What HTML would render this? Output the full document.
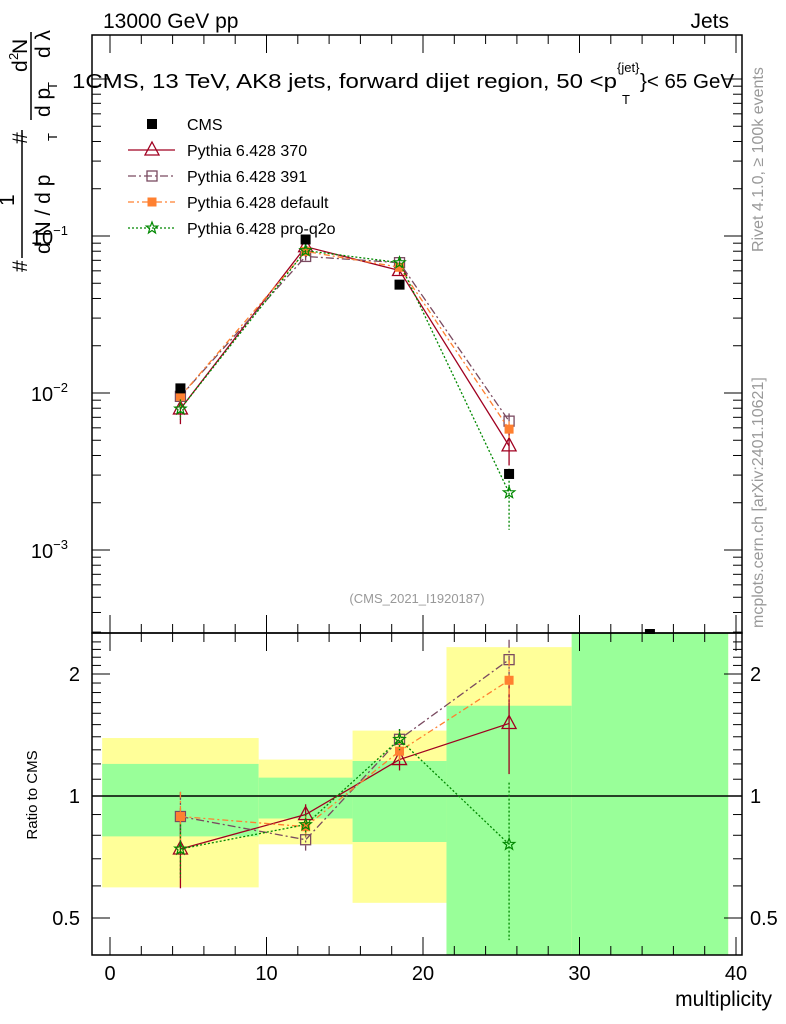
<!DOCTYPE html>
<html><head><meta charset="utf-8"><style>
body{margin:0;background:#fff}
svg{display:block;font-family:"Liberation Sans",sans-serif}
</style></head><body>
<svg id="c" width="786" height="1024" viewBox="0 0 786 1024"></svg>
<script>
const xs = [4.5, 12.5, 18.5, 25.5];
const cmsVals = [0.0107, 0.095, 0.049, 0.00305];
const cmsErr = [0.06, 0.05, 0.05, 0.06];
const r370 = [0.74, 0.90, 1.23, 1.51];
const r391 = [0.89, 0.78, 1.38, 2.17];
const rDef = [0.89, 0.84, 1.29, 1.93];
const rQ2o = [0.74, 0.85, 1.38, 0.76];
const e370 = [0.2, 0.06, 0.06, 0.25];
const e391 = [0.15, 0.06, 0.06, 0.12];
const eDef = [0.15, 0.06, 0.06, 0.12];
const eQ2o = [0.15, 0.06, 0.06, 0.42];
const binEdges = [-0.5, 9.5, 15.5, 21.5, 29.5, 39.5];
const yelLo = [0.595, 0.76, 0.545, 0.3, 0.3];
const yelHi = [1.39, 1.23, 1.45, 2.33, 3];
const grnLo = [0.795, 0.88, 0.77, 0.3, 0.3];
const grnHi = [1.2, 1.11, 1.22, 1.67, 3];
const xTicks = [0, 10, 20, 30, 40];

const NS = "http://www.w3.org/2000/svg";
const svg = document.getElementById('c');
const L = 92, R = 742, T1 = 35, B1 = 633, T2 = 633, B2 = 955;
const X = v => 110 + v * 15.65;
const Y1 = v => 236 - 157 * (Math.log10(v) + 1);
const Y2 = v => 796 - 122 * Math.log2(v);
function el(tag, attrs, parent) {
  const e = document.createElementNS(NS, tag);
  for (const k in attrs) e.setAttribute(k, attrs[k]);
  (parent || svg).appendChild(e);
  return e;
}
function txt(s, attrs, name) {
  const t = el('text', attrs);
  t.textContent = s;
  
  
  return t;
}
const defs = el('defs', {});
const cp1 = el('clipPath', {id: 'cp1'}, defs); el('rect', {x: L, y: T1, width: R - L, height: B1 - T1}, cp1);
const cp2 = el('clipPath', {id: 'cp2'}, defs); el('rect', {x: L, y: T2, width: R - L, height: B2 - T2}, cp2);

// bands
const gb = el('g', {'clip-path': 'url(#cp2)'});


for (let i = 0; i < yelLo.length; i++) {
  const x0 = X(binEdges[i]), x1 = X(binEdges[i + 1]);
  const y = el('rect', {x: x0, y: Y2(yelHi[i]), width: x1 - x0, height: Y2(yelLo[i]) - Y2(yelHi[i]), fill: '#ffff99'}, gb);
  
  
  const g = el('rect', {x: x0, y: Y2(grnHi[i]), width: x1 - x0, height: Y2(grnLo[i]) - Y2(grnHi[i]), fill: '#99ff99'}, gb);
  
  
}
el('line', {x1: L, x2: R, y1: Y2(1), y2: Y2(1), stroke: '#000', 'stroke-width': 1.5});

// frames
el('rect', {x: L, y: T1, width: R - L, height: B1 - T1, fill: 'none', stroke: '#000', 'stroke-width': 1.5});
el('rect', {x: L, y: T2, width: R - L, height: B2 - T2, fill: 'none', stroke: '#000', 'stroke-width': 1.5});

// x ticks
for (let v = -1; v <= 40; v++) {
  if (v % 2 && v % 10) continue;
  const maj = v % 10 === 0, len = maj ? 18 : 9;
  [[T1, 1], [B1, -1], [T2, 1], [B2, -1]].forEach(([y, d]) => el('line', {x1: X(v), x2: X(v), y1: y, y2: y + d * len, stroke: '#000'}));
}
xTicks.forEach(v => txt(String(v), {x: X(v), y: 980, 'font-size': 20, 'text-anchor': 'middle'}, 'x-tick-label'));
txt('multiplicity', {x: 772, y: 1006, 'font-size': 21, 'text-anchor': 'end'}, 'x-axis-title');

// top log ticks
for (let d = -4; d <= 0; d++) for (let m = 1; m <= 9; m++) {
  const v = m * Math.pow(10, d), y = Y1(v);
  if (y < T1 || y > B1) continue;
  const len = m === 1 ? 18 : 9;
  el('line', {x1: L, x2: L + len, y1: y, y2: y, stroke: '#000'});
  el('line', {x1: R, x2: R - len, y1: y, y2: y, stroke: '#000'});
}
[[-1, 236], [-2, 393], [-3, 550]].forEach(([e, y]) => {
  const t = txt('10', {x: 68, y: y + 8, 'font-size': 20, 'text-anchor': 'end'}, 'y-tick-label');
  const s = el('tspan', {dy: -9, 'font-size': 13}, t); s.textContent = '\u2212' + (-e);
});
// ratio ticks
for (let v = 0.4; v <= 2.5; v += 0.1) {
  const y = Y2(v); if (y < T2 || y > B2) continue;
  const maj = [0.5, 1, 2].some(m => Math.abs(m - v) < 1e-6), len = maj ? 18 : 9;
  el('line', {x1: L, x2: L + len, y1: y, y2: y, stroke: '#000'});
  el('line', {x1: R, x2: R - len, y1: y, y2: y, stroke: '#000'});
}
[[0.5, '0.5'], [1, '1'], [2, '2']].forEach(([v, s]) => {
  txt(s, {x: 80, y: Y2(v) + 7, 'font-size': 20, 'text-anchor': 'end'}, 'ratio-tick-label');
  txt(s, {x: 750, y: Y2(v) + 7, 'font-size': 20}, 'ratio-tick-label-right');
});
txt('Ratio to CMS', {x: 0, y: 0, 'font-size': 15, 'text-anchor': 'middle', transform: 'translate(37,795) rotate(-90)'}, 'ratio-axis-title');

// texts
txt('13000 GeV pp', {x: 103, y: 28, 'font-size': 21}, 'beam-label');
txt('Jets', {x: 729, y: 28, 'font-size': 21, 'text-anchor': 'end'}, 'process-label');
txt('1CMS, 13 TeV, AK8 jets, forward dijet region, 50 <p', {x: 72, y: 88, 'font-size': 20.5, textLength: 545, lengthAdjust: 'spacingAndGlyphs'}, 'plot-title');
txt('{jet}', {x: 617, y: 72, 'font-size': 13}, 'title-sup');
txt('T', {x: 622, y: 104, 'font-size': 13}, 'title-sub');
txt('}< 65 GeV', {x: 640, y: 88, 'font-size': 20.5}, 'title-end');
txt('(CMS_2021_I1920187)', {x: 417, y: 603, 'font-size': 13, fill: '#999', 'text-anchor': 'middle'}, 'analysis-id');
txt('Rivet 4.1.0, \u2265 100k events', {x: 0, y: 0, 'font-size': 16, fill: '#999', transform: 'translate(763,252) rotate(-90)'}, 'rivet-label');
txt('mcplots.cern.ch [arXiv:2401.10621]', {x: 0, y: 0, 'font-size': 16, fill: '#999', transform: 'translate(763,628) rotate(-90)'}, 'mcplots-label');
// y axis title
const yt = el('g', {transform: 'rotate(-90)'});


[['#', -272, 27, 21], ['1', -206, 14, 21], ['d N / d p', -254, 50, 21], ['T', -141, 57, 13], ['#', -144, 27, 21], ['d', -72, 27, 21], ['2', -60, 18, 13], ['N', -54, 27, 21], ['d p', -117, 50, 21], ['T', -90, 57, 13], ['d \u03bb', -58, 50, 21]].forEach(([s, x, y, f]) => {
  const t = el('text', {x: x, y: y, 'font-size': f}, yt); t.textContent = s;
});
el('line', {x1: -258, x2: -130, y1: 22, y2: 22, stroke: '#000', 'stroke-width': 1.5}, yt);
el('line', {x1: -120, x2: -32, y1: 31, y2: 31, stroke: '#000', 'stroke-width': 1.5}, yt);

// markers
function marker(kind, x, y, col, g) {
  let m;
  if (kind === 'cms') m = el('rect', {x: x - 5, y: y - 5, width: 10, height: 10, fill: '#000'}, g);
  else if (kind === 'tri') m = el('path', {d: `M${x},${y - 8}L${x + 7},${y + 5}L${x - 7},${y + 5}Z`, fill: 'none', stroke: col, 'stroke-width': 1.3}, g);
  else if (kind === 'osq') m = el('rect', {x: x - 5, y: y - 5, width: 10, height: 10, fill: 'none', stroke: col, 'stroke-width': 1.3}, g);
  else if (kind === 'fsq') m = el('rect', {x: x - 4.5, y: y - 4.5, width: 9, height: 9, fill: col}, g);
  else {
    let d = '';
    for (let i = 0; i < 10; i++) { const a = -Math.PI / 2 + i * Math.PI / 5, r = i % 2 ? 2.5 : 6; d += (i ? 'L' : 'M') + (x + r * Math.cos(a)).toFixed(1) + ',' + (y + r * Math.sin(a)).toFixed(1); }
    m = el('path', {d: d + 'Z', fill: 'none', stroke: col, 'stroke-width': 1.2}, g);
  }
  
  
}
const series = [
  {name: 'pythia-370', r: r370, e: e370, col: '#a00020', dash: '', kind: 'tri'},
  {name: 'pythia-391', r: r391, e: e391, col: '#7a4a60', dash: '8,3,2,3', kind: 'osq'},
  {name: 'pythia-default', r: rDef, e: eDef, col: '#ff8030', dash: '6,3,2,3', kind: 'fsq'},
  {name: 'pythia-pro-q2o', r: rQ2o, e: eQ2o, col: '#008800', dash: '2,2', kind: 'star'}
];
function drawSeries(vals, errs, Y, clip, col, dash, kind, name) {
  const g = el('g', {'clip-path': clip});
  
  
  el('polyline', {points: xs.map((x, i) => X(x) + ',' + Y(vals[i])).join(' '), fill: 'none', stroke: col, 'stroke-width': 1.3, 'stroke-dasharray': dash}, g);
  xs.forEach((x, i) => {
    el('line', {x1: X(x), x2: X(x), y1: Y(vals[i] * (1 + errs[i])), y2: Y(vals[i] * (1 - errs[i])), stroke: col, 'stroke-width': 1.3, 'stroke-dasharray': dash}, g);
    marker(kind, X(x), Y(vals[i]), col, g);
  });
}
series.forEach(s => {
  drawSeries(s.r.map((v, i) => v * cmsVals[i]), s.e, Y1, 'url(#cp1)', s.col, s.dash, s.kind, s.name + '-main');
  drawSeries(s.r, s.e, Y2, 'url(#cp2)', s.col, s.dash, s.kind, s.name + '-ratio');
});
const gc = el('g', {'clip-path': 'url(#cp1)'});


xs.forEach((x, i) => {
  el('line', {x1: X(x), x2: X(x), y1: Y1(cmsVals[i] * (1 + cmsErr[i])), y2: Y1(cmsVals[i] * (1 - cmsErr[i])), stroke: '#000'}, gc);
  marker('cms', X(x), Y1(cmsVals[i]), '#000', gc);
});
const extra = el('rect', {x: X(34.5) - 5, y: 629, width: 10, height: 5, fill: '#000'});



// legend
const lg = el('g', {});


const legItems = [['CMS', '#000', '', 'cms'], ['Pythia 6.428 370', '#a00020', '', 'tri'], ['Pythia 6.428 391', '#7a4a60', '8,3,2,3', 'osq'], ['Pythia 6.428 default', '#ff8030', '6,3,2,3', 'fsq'], ['Pythia 6.428 pro-q2o', '#008800', '2,2', 'star']];
legItems.forEach(([s, col, dash, kind], i) => {
  const y = 124 + i * 26;
  const e = el('g', {}, lg);
  
  
  if (kind !== 'cms') el('line', {x1: 128, x2: 175, y1: y, y2: y, stroke: col, 'stroke-width': 1.3, 'stroke-dasharray': dash}, e);
  marker(kind, 152, y, col, e);
  const t = el('text', {x: 187, y: y + 6, 'font-size': 16}, e); t.textContent = s;
});
</script>
</body></html>
